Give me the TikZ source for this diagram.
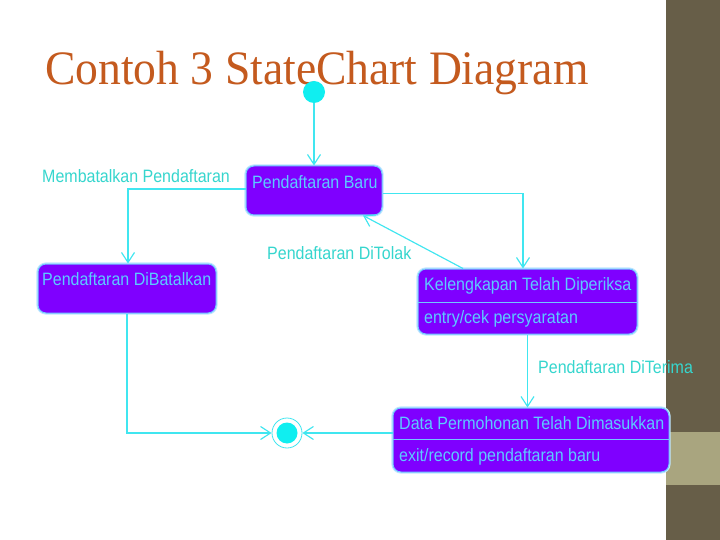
\documentclass[tikz,border=0pt]{standalone}
\usepackage{fontspec}
\setmainfont{Liberation Sans}
\newfontfamily\titlefont{Liberation Serif}
\usetikzlibrary{arrows.meta}
\definecolor{purplebox}{HTML}{7F00FF}
\definecolor{boxedge}{HTML}{70C8FF}
\definecolor{boxtext}{HTML}{5CCBFF}
\definecolor{labeltext}{HTML}{36D6CE}
\definecolor{wire}{HTML}{40E6F0}
\definecolor{dotcol}{HTML}{10EEF0}
\definecolor{titlecol}{HTML}{C45A1E}
\definecolor{stripolive}{HTML}{675E48}
\definecolor{stripkhaki}{HTML}{A9A57F}
\newcommand\tallt[1]{\scalebox{1}[1.12]{#1}}
\pgfdeclareradialshading{vignette}{\pgfpoint{0bp}{0bp}}{color(0bp)=(white); color(44bp)=(white); color(72bp)=(black!14)}
\tikzset{
  statebox/.style={draw=boxedge, line width=1pt, fill=purplebox, rounded corners=8pt, inner sep=0pt,
    preaction={draw=boxedge!45, line width=3.2pt}},
  intext/.style={anchor=base west, inner sep=0pt, text=boxtext, font=\fontsize{16}{19}\selectfont},
  lbl/.style={anchor=base west, inner sep=0pt, text=labeltext, font=\fontsize{16}{19}\selectfont},
  wireline/.style={draw=wire, line width=1.15pt, -{Straight Barb[length=10pt,width=13pt]}},
  divider/.style={draw=boxedge, line width=0.8pt},
}
\begin{document}
\begin{tikzpicture}[x=1pt,y=-1pt]
\useasboundingbox (0,0) rectangle (720,540);
% background
\shade[shading=vignette] (0,0) rectangle (666,540);
\fill[stripolive] (666,0) rectangle (720,540);
\fill[stripkhaki] (666,432) rectangle (720,485);
% title
\node[anchor=base west, inner sep=0pt, text=titlecol] (title) at (45,85)
  {\scalebox{0.95}[1]{\titlefont\fontsize{48}{56}\selectfont Contoh 3 StateChart Diagram}};
% states
\node[circle, fill=dotcol, minimum size=22pt, inner sep=0pt] (init) at (314,92) {};
\node[statebox, minimum width=136pt, minimum height=49pt] (baru) at (314,190.5) {};
\node[statebox, minimum width=178pt, minimum height=49pt] (bat) at (127,288.5) {};
\node[statebox, minimum width=219pt, minimum height=65pt] (kel) at (527.5,301.5) {};
\node[statebox, minimum width=276pt, minimum height=64pt] (data) at (531,440) {};
\node[circle, draw=wire, line width=0.8pt, fill=white, minimum size=30pt, inner sep=0pt] (final) at (287,433) {};
\node[circle, fill=dotcol, minimum size=21pt, inner sep=0pt] (finaldot) at (final.center) {};
% dividers
\draw[divider] (kel.west |- 0,302) -- (kel.east |- 0,302);
\draw[divider] (data.west |- 0,439) -- (data.east |- 0,439);
% texts in states
\node[intext] (tbaru) at (252,189) {\tallt{Pendaftaran Baru}};
\node[intext] (tbat) at (42,285) {\tallt{Pendaftaran DiBatalkan}};
\node[intext] (tkel) at (424,290) {\tallt{Kelengkapan Telah Diperiksa}};
\node[intext] (tkel2) at (424,323) {\tallt{entry/cek persyaratan}};
\node[intext] (tdata) at (399,429) {\tallt{Data Permohonan Telah Dimasukkan}};
\node[intext] (tdata2) at (399,461) {\tallt{exit/record pendaftaran baru}};
% transition labels
\node[lbl] (l1) at (42,183) {\tallt{Membatalkan Pendaftaran}};
\node[lbl] (l2) at (267,259) {\tallt{Pendaftaran DiTolak}};
\node[lbl] (l3) at (538,373) {\tallt{Pendaftaran DiTerima}};
% transitions
\draw[wireline] (init) -- (baru.north);
\draw[wireline] ([yshift=1.5pt]baru.west) -| ([xshift=1pt]bat.north);
\draw[wireline] ([yshift=-3pt]baru.east) -| ([xshift=-4.5pt]kel.north);
\draw[wireline] ([xshift=-64.5pt]kel.north) -- ([xshift=49pt]baru.south);
\draw[wireline] (kel.south) -- (kel.south |- data.north);
\draw[wireline] (bat.south) |- (final);
\draw[wireline] (data.west |- final) -- (final);
\end{tikzpicture}
\end{document}
